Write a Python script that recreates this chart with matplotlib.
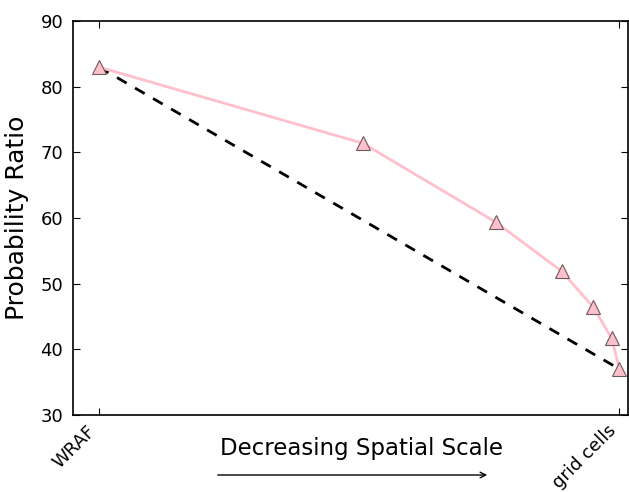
import matplotlib
matplotlib.use("Agg")
import matplotlib.pyplot as plt

# data
scale_pos = [0.0, 0.507, 0.762, 0.889, 0.950, 0.985, 1.0]
prob_ratio = [83.0, 71.4, 59.4, 51.9, 46.4, 41.7, 37.0]
ref_x = [0.0, 1.0]
ref_y = [83.0, 37.0]
tick_pos = [0.0, 1.0]
tick_labels = ["WRAF", "grid cells"]

fig = plt.figure(figsize=(6.29, 4.92), dpi=100)
ax = fig.add_axes([0.116, 0.1565, 0.882, 0.8005])

ax.plot(ref_x, ref_y, "k--", lw=2, dashes=(4, 3.5), zorder=2)
ax.plot(scale_pos, prob_ratio, "-", color="pink", lw=2, zorder=3)
ax.plot(scale_pos, prob_ratio, "^", ms=10, markerfacecolor="pink",
        markeredgecolor="#6b5a5e", markeredgewidth=0.8, zorder=4, ls="none")

ax.set_xlim(-0.05, 1.016)
ax.set_ylim(30, 90)
ax.set_yticks([30, 40, 50, 60, 70, 80, 90])
ax.set_xticks(tick_pos)
ax.set_xticklabels(tick_labels, rotation=45, ha="right", fontsize=13)
ax.tick_params(axis="both", direction="in", top=True, right=True, length=5, width=0.8)
ax.tick_params(axis="y", labelsize=13, pad=7)
ax.tick_params(axis="x", pad=5)
ax.set_ylabel("Probability Ratio", fontsize=18, labelpad=8)
for s in ax.spines.values():
    s.set_linewidth(1.2)

fig.text(362 / 629, 1 - 455 / 492, "Decreasing Spatial Scale", fontsize=16.5,
         ha="center", va="baseline")

ax.annotate("", xy=(490 / 629, 1 - 475 / 492), xytext=(215 / 629, 1 - 475 / 492),
            xycoords="figure fraction", textcoords="figure fraction",
            arrowprops=dict(arrowstyle="->", lw=1, color="black"))

fig.savefig("out.png", dpi=100)
